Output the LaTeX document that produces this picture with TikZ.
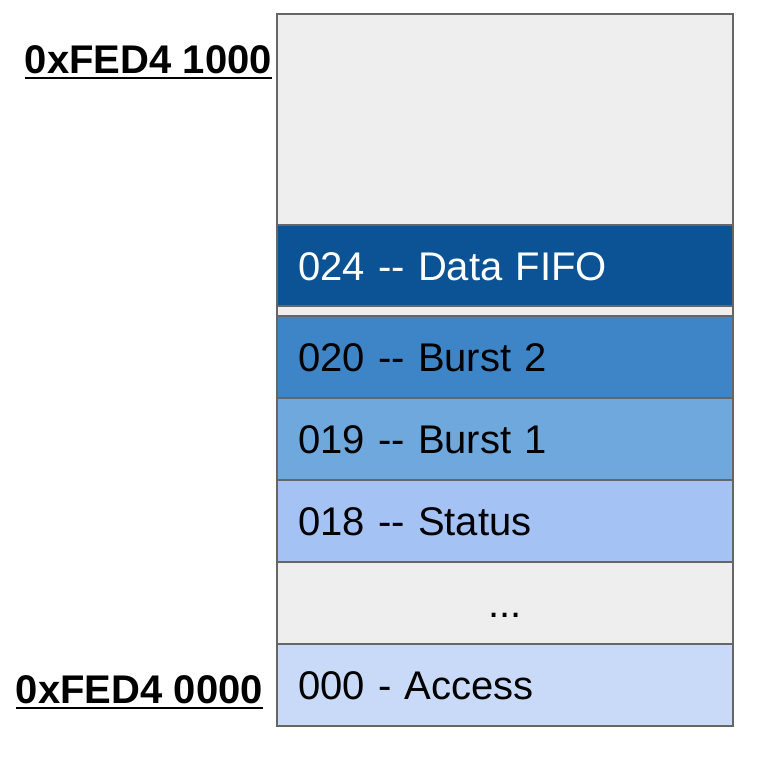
\documentclass[tikz,border=0pt]{standalone}
\usepackage{fontspec}
\setmainfont{Liberation Sans}
\usetikzlibrary{positioning}
\definecolor{rimgray}{HTML}{666666}
\definecolor{freegray}{HTML}{EEEEEE}
\definecolor{fifoblue}{HTML}{0B5394}
\definecolor{burstdark}{HTML}{3D85C6}
\definecolor{burstlight}{HTML}{6FA8DC}
\definecolor{statusblue}{HTML}{A4C2F4}
\definecolor{accessblue}{HTML}{C9DAF8}
\tikzset{
    reg/.style={draw=rimgray, line width=1.6pt, outer sep=0pt,
        minimum width=456pt, minimum height=82pt,
        text width=414pt, inner xsep=21pt, inner ysep=0pt, align=left,
        text height=29pt, text depth=0pt,
        font=\fontsize{40}{40}\selectfont},
    addr/.style={anchor=base east, inner sep=0pt,
        font=\fontsize{40}{40}\selectfont\bfseries}
}
\begin{document}
\begin{tikzpicture}[x=1pt, y=-1pt, node distance=0pt]
    \useasboundingbox (0,0) rectangle (766,764);

    % register blocks, top to bottom
    \node[reg, fill=freegray, minimum height=211pt, anchor=north] (free) at (505,14) {};
    \node[reg, fill=fifoblue, minimum height=81pt, text=white, below=of free] (fifo) {024 {-}{-} Data FIFO};
    \node[reg, fill=freegray, minimum height=10pt, text height=0pt, below=of fifo] (gap) {};
    \node[reg, fill=burstdark, below=of gap] (burst2) {020 {-}{-} Burst 2};
    \node[reg, fill=burstlight, below=of burst2] (burst1) {019 {-}{-} Burst 1};
    \node[reg, fill=statusblue, below=of burst1] (status) {018 {-}{-} Status};
    \node[reg, fill=freegray, align=center, below=of status] (dots) {...};
    \node[reg, fill=accessblue, below=of dots] (access) {000 - Access};

    % base addresses
    \node[addr] (top) at (272,73) {0xFED4 1000};
    \node[addr] (base) at (263,703) {0xFED4 0000};
    \draw[line width=2.4pt] ([yshift=-5pt]top.base west) -- ([yshift=-5pt]top.base east);
    \draw[line width=2.4pt] ([yshift=-5pt]base.base west) -- ([yshift=-5pt]base.base east);
\end{tikzpicture}
\end{document}
